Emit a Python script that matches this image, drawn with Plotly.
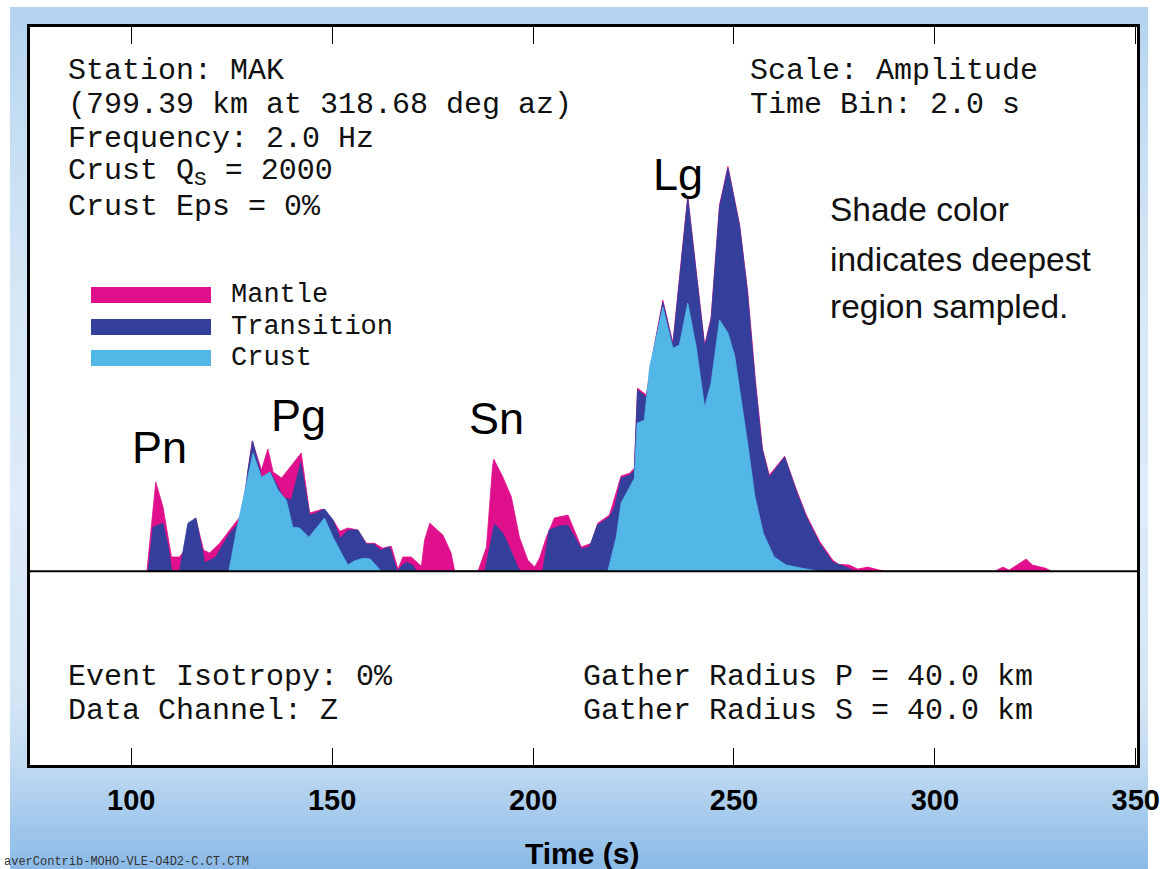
import plotly.graph_objects as go

# ---- envelope data: amplitude (% of peak) vs time (s) per deepest region ----
mantle_t = [103.9, 106.1, 107.9, 110.0, 112.0, 113.5, 116.0, 118.0, 119.5, 122.0,
            124.5, 127.0, 128.0, 129.0, 130.1, 132.4, 134.0, 135.3, 137.4, 142.3,
            144.4, 147.7, 150.2, 151.9, 153.9, 156.4, 158.5, 160.6, 162.6, 164.7,
            166.4, 167.6, 169.7, 172.2, 173.0, 174.3, 177.6, 179.6, 180.5, 186.3,
            188.4, 189.9, 190.2, 192.5, 194.6, 196.6, 198.7, 200.4, 201.6, 203.3,
            205.3, 208.7, 212.0, 214.5, 216.1, 219.0, 221.9, 224.0, 225.2, 226.0,
            228.2, 230.2, 232.3, 234.8, 238.5, 240.6, 242.7, 244.3, 246.4, 248.5,
            251.4, 253.4, 255.4, 257.1, 258.8, 262.6, 265.5, 268.0, 271.3, 274.6,
            276.0, 278.7, 280.8, 283.3, 286.2, 288.0, 315.0, 316.9, 318.5, 322.7,
            324.3, 327.6, 329.0]
mantle_amp = [0, 22.1, 15.9, 3.5, 3.5, 5.5, 13.2, 5.2, 4.5, 6.9,
              10.2, 13.4, 17.4, 25.1, 32.3, 25.1, 30.3, 24.6, 23.1, 29.3,
              14.4, 15.4, 12.7, 9.9, 10.7, 10.2, 6.9, 6.9, 5.7, 6.2,
              0.5, 3.5, 3.5, 1.2, 7.7, 11.9, 8.9, 4.5, 0, 0,
              6.0, 25.8, 27.8, 23.3, 18.4, 8.4, 2.7, 1.0, 3.2, 8.4,
              13.2, 13.9, 6.0, 6.9, 11.9, 13.9, 23.6, 24.3, 25.5, 45.4,
              43.7, 56.1, 67.2, 56.6, 93.1, 74.4, 56.1, 62.8, 90.8, 100.4,
              85.9, 69.5, 46.7, 30.3, 23.8, 28.5, 20.3, 13.9, 7.4, 2.7,
              1.7, 1.5, 0.5, 1.0, 0.25, 0, 0, 1.0, 0.25, 3.0,
              1.5, 0.7, 0]

transition_t = [104.2, 105.4, 107.9, 109.2, 110.1, 112.0, 114.1, 116.1, 118.3, 121.0,
                124.5, 127.0, 128.0, 129.0, 130.2, 132.5, 134.6, 137.8, 139.8, 142.2,
                144.4, 146.0, 148.1, 150.2, 152.0, 154.0, 156.4, 158.5, 160.4, 162.0,
                164.3, 166.2, 167.5, 168.5, 170.0, 171.0, 188.0, 190.4, 192.5, 194.1,
                196.2, 197.0, 202.4, 204.0, 206.6, 208.7, 212.0, 214.0, 216.0, 219.0,
                220.3, 221.9, 224.0, 225.2, 226.0, 228.2, 230.2, 232.3, 234.8, 238.5,
                240.6, 242.7, 244.3, 246.4, 248.5, 251.4, 253.3, 255.3, 257.0, 258.8,
                262.6, 265.5, 268.0, 271.3, 274.6, 277.9, 280.0]
transition_amp = [0, 10.9, 11.9, 6.0, 0, 0, 11.9, 13.2, 2.0, 3.5,
                  9.4, 12.2, 15.4, 24.8, 32.3, 23.1, 24.6, 18.4, 17.6, 27.0,
                  13.9, 14.4, 15.4, 12.7, 8.2, 10.2, 10.2, 6.7, 6.7, 5.2,
                  6.0, 0, 1.5, 2.2, 1.5, 0, 0, 11.7, 9.4, 6.0,
                  1.0, 0, 0, 10.2, 11.2, 11.4, 5.5, 6.0, 11.4, 13.4,
                  15.9, 23.1, 23.8, 25.0, 44.9, 43.2, 55.6, 66.7, 56.1, 92.6,
                  73.9, 55.6, 62.3, 90.3, 100.0, 85.6, 69.5, 46.7, 30.3, 23.3,
                  28.3, 19.9, 13.4, 6.9, 2.2, 1.0, 0]

crust_t = [124.3, 126.2, 128.7, 130.3, 132.4, 134.5, 136.5, 138.6, 140.2, 141.9,
           144.2, 148.1, 150.2, 152.0, 153.9, 155.5, 157.7, 159.5, 161.0, 162.2,
           218.6, 220.7, 221.9, 224.0, 225.2, 225.9, 227.7, 229.0, 230.6, 232.3,
           234.8, 236.4, 238.5, 240.6, 242.7, 244.3, 246.4, 248.5, 250.2, 251.9,
           253.5, 255.2, 257.3, 260.0, 263.0, 267.0, 271.0]
crust_amp = [0, 10.2, 21.8, 29.3, 23.3, 24.6, 20.1, 17.6, 10.9, 10.7,
             8.4, 13.2, 8.4, 5.0, 1.5, 2.5, 3.2, 3.0, 1.2, 0,
             0, 8.4, 16.9, 20.6, 23.0, 36.7, 37.5, 50.6, 58.1, 65.5,
             55.3, 56.1, 66.5, 55.6, 40.7, 46.7, 62.3, 59.1, 53.3, 42.2,
             31.0, 18.6, 9.4, 3.5, 1.5, 0.7, 0]

time_ticks = [100, 150, 200, 250, 300, 350]
phase_labels = [("Pn", 107.0), ("Pg", 141.5), ("Sn", 191.0), ("Lg", 236.0)]

MANTLE = "#e0108c"
TRANSITION = "#343f9b"
CRUST = "#52b6e6"

W, H = 1161, 869
L, R, T, B = 30, 24, 27, 104
PW, PH = W - L - R, H - T - B

MONO = "Liberation Mono, Courier New, monospace"
SANS = "Liberation Sans, Arial, Helvetica, sans-serif"


def px(x):
    return (x - L) / PW


def py(y):
    return (H - B - y) / PH


fig = go.Figure()
for t, a, c in [(mantle_t, mantle_amp, MANTLE),
                (transition_t, transition_amp, TRANSITION),
                (crust_t, crust_amp, CRUST)]:
    fig.add_trace(go.Scatter(x=t, y=a, mode="lines", fill="tozeroy",
                             fillcolor=c, line=dict(color=c, width=0.8),
                             hoverinfo="skip", showlegend=False))

# ---- background: vertical blue gradient built from thin bands ----
stops = [(7, (179, 211, 239)), (120, (196, 221, 242)), (300, (214, 231, 246)),
         (500, (222, 235, 248)), (700, (212, 229, 245)), (765, (192, 218, 241)),
         (869, (138, 186, 231))]


def grad_color(y):
    for (y0, c0), (y1, c1) in zip(stops[:-1], stops[1:]):
        if y0 <= y <= y1:
            f = (y - y0) / (y1 - y0)
            return "rgb(%d,%d,%d)" % tuple(round(c0[i] + f * (c1[i] - c0[i])) for i in range(3))
    return "rgb(%d,%d,%d)" % stops[-1][1]


shapes = []
band = 6
y = 7
while y < H:
    y2 = min(y + band, H + 2)
    shapes.append(dict(type="rect", xref="paper", yref="paper", layer="below",
                       x0=px(10), x1=px(1148), y0=py(y2 + 0.5), y1=py(y),
                       fillcolor=grad_color(y + band / 2), line=dict(width=0)))
    y = y2
# white plotting panel
shapes.append(dict(type="rect", xref="paper", yref="paper", layer="below",
                   x0=0, x1=1, y0=0, y1=1, fillcolor="white", line=dict(width=0)))
# zero-amplitude baseline
shapes.append(dict(type="line", xref="paper", yref="y", x0=0, x1=1, y0=0, y1=0,
                   line=dict(color="black", width=2), layer="above"))

# legend swatches
legend_items = [("Mantle", MANTLE, 295), ("Transition", TRANSITION, 327), ("Crust", CRUST, 358)]
for name, col, yc in legend_items:
    shapes.append(dict(type="rect", xref="paper", yref="paper", layer="above",
                       x0=px(91), x1=px(211), y0=py(yc + 8), y1=py(yc - 8),
                       fillcolor=col, line=dict(width=0)))

ann = []


def text(s, x, y, size, family, xanchor="left", color="#111"):
    ann.append(dict(text=s, x=px(x), y=py(y), xref="paper", yref="paper",
                    xanchor=xanchor, yanchor="middle", showarrow=False,
                    font=dict(family=family, size=size, color=color)))


info_left = ["Station: MAK", "(799.39 km at 318.68 deg az)", "Frequency: 2.0 Hz",
             "Crust Q<sub>S</sub> = 2000", "Crust Eps = 0%"]
for s, yc in zip(info_left, [71, 105, 139, 172, 207]):
    text(s, 66, yc, 30, MONO)
for s, yc in zip(["Scale: Amplitude", "Time Bin: 2.0 s"], [71, 105]):
    text(s, 748, yc, 30, MONO)
for s, yc in zip(["Event Isotropy: 0%", "Data Channel: Z"], [677, 711]):
    text(s, 66, yc, 30, MONO)
for s, yc in zip(["Gather Radius P = 40.0 km", "Gather Radius S = 40.0 km"], [677, 711]):
    text(s, 581, yc, 30, MONO)

for name, col, yc in legend_items:
    text(name, 229, yc, 27, MONO)

for s, yc in zip(["Shade color", "indicates deepest", "region sampled."], [210, 259, 307]):
    text(s, 828, yc, 33.5, SANS)

# phase labels placed over their arrivals
phase_y = {"Pn": 448, "Pg": 416, "Sn": 418, "Lg": 174}
for name, tt in phase_labels:
    ann.append(dict(text=name, x=tt, y=py(phase_y[name]), xref="x", yref="paper",
                    xanchor="center", yanchor="middle", showarrow=False,
                    font=dict(family=SANS, size=45, color="black")))

ann.append(dict(text="<b>Time (s)</b>", x=px(582), y=py(853), xref="paper", yref="paper",
                xanchor="center", yanchor="middle", showarrow=False,
                font=dict(family=SANS, size=30, color="black")))
text("averContrib-MOHO-VLE-O4D2-C.CT.CTM", 2, 862, 12, MONO, color="#333")

fig.update_layout(
    width=W, height=H, margin=dict(l=L, r=R, t=T, b=B, pad=0, autoexpand=False),
    paper_bgcolor="white", plot_bgcolor="rgba(0,0,0,0)",
    shapes=shapes, annotations=ann,
    xaxis=dict(range=[74.8, 350.3], tickvals=time_ticks,
               ticktext=["<b>%d</b>" % v for v in time_ticks],
               ticks="inside", ticklen=17, tickwidth=1.2, tickcolor="black",
               showline=True, linecolor="black", linewidth=2.5, mirror="ticks",
               showgrid=False, zeroline=False, ticklabelstandoff=7, automargin=False,
               tickfont=dict(family=SANS, size=29, color="black")),
    yaxis=dict(range=[-48.1, 135.0], showticklabels=False, ticks="",
               showline=True, linecolor="black", linewidth=2.5, mirror=True,
               showgrid=False, zeroline=False, automargin=False),
)

fig.write_html("out.html")
